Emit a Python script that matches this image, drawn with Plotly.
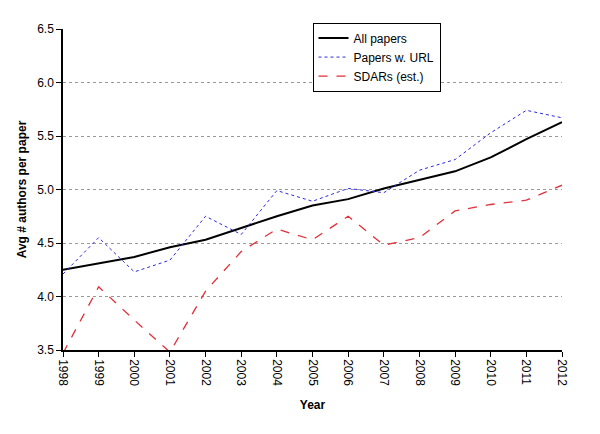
import plotly.graph_objects as go

years = [1998, 1999, 2000, 2001, 2002, 2003, 2004, 2005, 2006, 2007, 2008, 2009, 2010, 2011, 2012]
all_papers = [4.25, 4.31, 4.37, 4.46, 4.53, 4.64, 4.75, 4.85, 4.91, 5.01, 5.09, 5.17, 5.30, 5.47, 5.63]
papers_url = [4.21, 4.55, 4.23, 4.34, 4.75, 4.58, 4.99, 4.89, 5.01, 4.97, 5.18, 5.28, 5.53, 5.74, 5.67]
sdars = [3.47, 4.09, 3.78, 3.48, 4.05, 4.42, 4.63, 4.53, 4.75, 4.48, 4.55, 4.80, 4.86, 4.90, 5.04]
y_ticks = [3.5, 4.0, 4.5, 5.0, 5.5, 6.0, 6.5]

font = "Liberation Sans, Arial, sans-serif"

fig = go.Figure()
fig.add_trace(go.Scatter(x=years, y=all_papers, mode="lines", name="All papers",
                         line=dict(color="black", width=2), cliponaxis=False))
fig.add_trace(go.Scatter(x=years, y=papers_url, mode="lines", name="Papers w. URL",
                         line=dict(color="#2a2ae0", width=1, dash="dot"), cliponaxis=False))
fig.add_trace(go.Scatter(x=years, y=sdars, mode="lines", name="SDARs (est.)",
                         line=dict(color="#e0303a", width=1.3, dash="dash"), cliponaxis=False))

fig.update_layout(
    width=600, height=434,
    margin=dict(l=55, r=46, t=21, b=92, autoexpand=False),
    paper_bgcolor="white", plot_bgcolor="white",
    font=dict(family=font, size=12, color="black"),
    showlegend=True,
    legend=dict(x=0.5, y=1.02, xanchor="left", yanchor="top",
                bordercolor="black", borderwidth=1, bgcolor="white",
                font=dict(size=12), tracegroupgap=0, itemwidth=30),
    xaxis=dict(
        range=[1998, 2012], tickmode="array", tickvals=years,
        ticktext=[str(y) for y in years], tickangle=90,
        showline=True, linecolor="black", linewidth=1.5,
        ticks="outside", ticklen=5, tickcolor="black",
        showgrid=False, zeroline=False, automargin=False,
        title=dict(text="<b>Year</b>", font=dict(size=12), standoff=15),
    ),
    yaxis=dict(
        range=[3.5, 6.5], tickmode="array", tickvals=y_ticks,
        ticktext=[f"{v:.1f}" for v in y_ticks],
        showline=True, linecolor="black", linewidth=1.5,
        ticks="outside", ticklen=5, tickcolor="black",
        showgrid=True, gridcolor="#999999", griddash="dot", gridwidth=1,
        zeroline=False, automargin=False,
        title=dict(text="<b>Avg # authors per paper</b>", font=dict(size=12), standoff=8),
    ),
)

fig.write_html("out.html")
